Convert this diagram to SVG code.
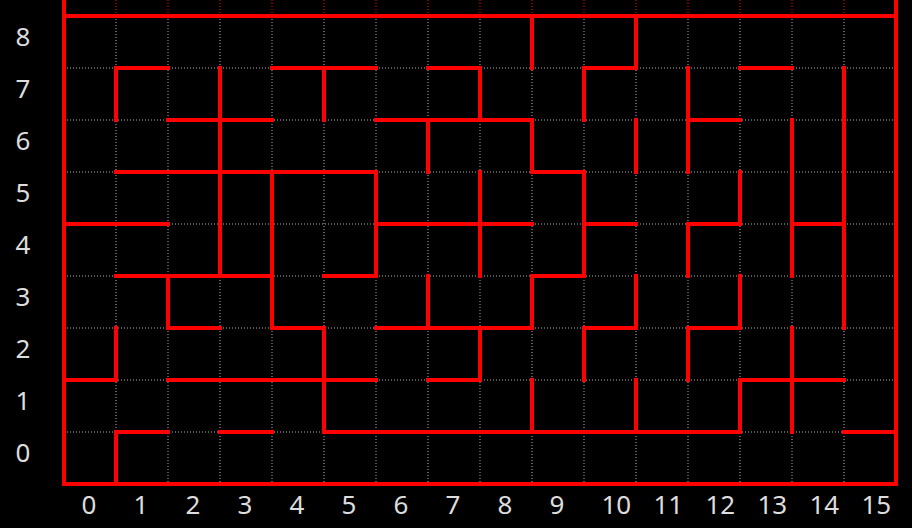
<svg xmlns="http://www.w3.org/2000/svg" width="912" height="528" viewBox="0 0 912 528">
<style>
.grid{stroke:#b4b4b4;stroke-width:1;stroke-dasharray:1 2;fill:none}
.gridtop{stroke:#ff0000;stroke-width:1;stroke-dasharray:1 2;fill:none}
.wall{stroke:#ff0000;stroke-width:4;stroke-linecap:square;fill:none}
.lbl{font-family:"Noto Sans","Open Sans",sans-serif;font-size:26px;fill:#dddddd}
</style>
<rect x="0" y="0" width="912" height="528" fill="#000000"/>
<g id="grid">
<path class="grid" d="M116 16V484M168 16V484M220 16V484M272 16V484M324 16V484M376 16V484M428 16V484M480 16V484M532 16V484M584 16V484M636 16V484M688 16V484M740 16V484M792 16V484M844 16V484M64 68H896M64 120H896M64 172H896M64 224H896M64 276H896M64 328H896M64 380H896M64 432H896"/>
<path class="gridtop" d="M116 0V16M168 0V16M220 0V16M272 0V16M324 0V16M376 0V16M428 0V16M480 0V16M532 0V16M584 0V16M636 0V16M688 0V16M740 0V16M792 0V16M844 0V16"/>
</g>
<g id="walls">
<path class="wall" d="M64 0V484H896V0M64 16H896"/>
<path class="wall" d="M116 68H168M272 68H376M428 68H480M584 68H636M740 68H792
M168 120H272M376 120H532M688 120H740
M116 172H376M532 172H584
M64 224H168M376 224H532M584 224H636M688 224H740M792 224H844
M116 276H272M324 276H376M532 276H584
M168 328H220M272 328H324M376 328H532M584 328H636M688 328H740
M64 380H116M168 380H376M428 380H480M740 380H844
M116 432H168M220 432H272M324 432H740M844 432H896"/>
<path class="wall" d="M116 68V120M116 328V380M116 432V484
M168 276V328
M220 68V276
M272 172V328
M324 68V120M324 328V432
M376 172V276
M428 120V172M428 276V328
M480 68V120M480 172V276M480 328V380
M532 16V68M532 120V172M532 276V328M532 380V432
M584 68V120M584 172V276M584 328V380
M636 16V68M636 120V172M636 276V328M636 380V432
M688 68V172M688 224V276M688 328V380
M740 172V224M740 276V328M740 380V432
M792 120V276M792 328V432
M844 68V328"/>
</g>
<g id="row-labels" class="lbl">
<text x="15.5" y="46">8</text>
<text x="15.5" y="98">7</text>
<text x="15.5" y="150">6</text>
<text x="15.5" y="202">5</text>
<text x="15.5" y="254">4</text>
<text x="15.5" y="306">3</text>
<text x="15.5" y="358">2</text>
<text x="15.5" y="410">1</text>
<text x="15.5" y="462">0</text>
</g>
<g id="col-labels" class="lbl">
<text x="81.5" y="514">0</text>
<text x="133.5" y="514">1</text>
<text x="185.5" y="514">2</text>
<text x="237.5" y="514">3</text>
<text x="289.5" y="514">4</text>
<text x="341.5" y="514">5</text>
<text x="393.5" y="514">6</text>
<text x="445.5" y="514">7</text>
<text x="497.5" y="514">8</text>
<text x="549.5" y="514">9</text>
<text x="601.5" y="514">10</text>
<text x="653.5" y="514">11</text>
<text x="705.5" y="514">12</text>
<text x="757.5" y="514">13</text>
<text x="809.5" y="514">14</text>
<text x="861.5" y="514">15</text>
</g>
</svg>
